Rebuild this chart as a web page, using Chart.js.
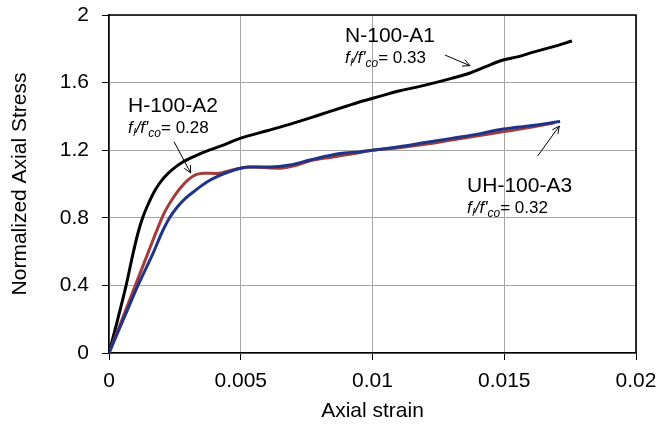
<!DOCTYPE html>
<html>
<head>
<meta charset="utf-8">
<script src="https://cdn.jsdelivr.net/npm/chart.js@4.4.1/dist/chart.umd.min.js"></script>
<style>
html,body{margin:0;padding:0;background:#fff;}
#wrap{width:660px;height:432px;position:relative;}
</style>
</head>
<body>
<div id="wrap"><canvas id="c" width="660" height="432"></canvas></div>
<script>
// ---- data ----
const xTicks = [0, 0.005, 0.01, 0.015, 0.02];
const yTicks = [0, 0.4, 0.8, 1.2, 1.6, 2];

const seriesNames = ["N-100-A1", "H-100-A2", "UH-100-A3"];

const strainN = [0,0.0003,0.00065,0.0009,0.0011,0.0013,0.0015,0.0017,0.0019,0.0021,0.0024,0.0028,0.0033,0.0038,0.00434,0.00497,0.006,0.007,0.008,0.009,0.00953,0.0103,0.011,0.012,0.013,0.0137,0.0143,0.01495,0.0155,0.0161,0.0168,0.01757];
const stressN = [0,0.18,0.4,0.58,0.71,0.81,0.885,0.95,1.0,1.04,1.085,1.13,1.168,1.2,1.23,1.27,1.315,1.36,1.41,1.46,1.487,1.52,1.55,1.585,1.625,1.657,1.695,1.734,1.752,1.78,1.81,1.846];

const strainH = [0,0.0005,0.001,0.0015,0.0018,0.0021,0.0024,0.0027,0.003,0.0033,0.0036,0.0041,0.00459,0.00497,0.0055,0.0061,0.0065,0.0071,0.0077,0.0085,0.0093,0.01,0.011,0.012,0.013,0.014,0.015,0.016,0.0169];
const stressH = [0,0.2,0.4,0.6,0.72,0.83,0.91,0.975,1.025,1.055,1.064,1.062,1.079,1.093,1.1,1.095,1.093,1.11,1.14,1.16,1.18,1.2,1.215,1.235,1.26,1.285,1.31,1.335,1.362];

const strainUH = [0,0.00055,0.0011,0.0017,0.002,0.0023,0.0026,0.0029,0.0033,0.0037,0.0041,0.0047,0.0053,0.0061,0.00687,0.00763,0.00877,0.0095,0.0103,0.011,0.012,0.013,0.014,0.01496,0.016,0.01712];
const stressUH = [0,0.2,0.4,0.6,0.71,0.8,0.865,0.915,0.965,1.01,1.043,1.08,1.1,1.1,1.112,1.142,1.18,1.19,1.205,1.22,1.245,1.27,1.295,1.325,1.345,1.37];

const ratios = ["0.33", "0.28", "0.32"];

// annotation anchors in data units: [labelX, labelY(baseline), arrowFromX, arrowFromY, arrowToX, arrowToY]
const annotN  = [0.00896, 1.842, 0.01275, 1.763, 0.0137, 1.700];
const annotH  = [0.00072, 1.428, 0.00247, 1.250, 0.0031, 1.065];
const annotUH = [0.01359, 0.954, 0.01627, 1.166, 0.01709, 1.343];

function pts(xs, ys){ return xs.map((x,i)=>({x:x, y:ys[i]})); }

const FONT = "'Liberation Sans', Arial, sans-serif";

const annotPlugin = {
  id: 'annot',
  afterDraw(chart){
    const ctx = chart.ctx;
    const xs = chart.scales.x, ys = chart.scales.y;
    const ca = chart.chartArea;
    ctx.save();
    ctx.strokeStyle = '#000';
    ctx.lineWidth = 1.6;
    ctx.beginPath();
    ctx.moveTo(ca.left, ca.top); ctx.lineTo(ca.right, ca.top); ctx.lineTo(ca.right, ca.bottom);
    ctx.stroke();
    ctx.restore();

    const anns = [[annotN, 0],[annotH, 1],[annotUH, 2]];
    anns.forEach(([a, i])=>{
      const lx = xs.getPixelForValue(a[0]);
      const ly = ys.getPixelForValue(a[1]);
      ctx.save();
      ctx.fillStyle = '#000';
      ctx.textBaseline = 'alphabetic';
      ctx.textAlign = 'left';
      ctx.font = '21px ' + FONT;
      ctx.fillText(seriesNames[i], lx, ly);
      let x = lx;
      const by = ly + 21.5;
      const segs = [
        {t:'f', f:'italic 17px ', dy:0},
        {t:'l', f:'italic 11px ', dy:3},
        {t:"/f'", f:'italic 17px ', dy:0},
        {t:'co', f:'italic 12px ', dy:4},
        {t:'= ' + ratios[i], f:'17px ', dy:0}
      ];
      segs.forEach(s=>{
        ctx.font = s.f + FONT;
        ctx.fillText(s.t, x, by + s.dy);
        x += ctx.measureText(s.t).width + (s.t==='f' ? 0.5 : 0);
      });
      const x1 = xs.getPixelForValue(a[2]), y1 = ys.getPixelForValue(a[3]);
      const x2 = xs.getPixelForValue(a[4]), y2 = ys.getPixelForValue(a[5]);
      ctx.strokeStyle = '#000';
      ctx.lineWidth = 1;
      ctx.beginPath(); ctx.moveTo(x1,y1); ctx.lineTo(x2,y2); ctx.stroke();
      const ang = Math.atan2(y2-y1, x2-x1);
      const hl = 8, ha = 0.45;
      ctx.beginPath();
      ctx.moveTo(x2 - hl*Math.cos(ang-ha), y2 - hl*Math.sin(ang-ha));
      ctx.lineTo(x2, y2);
      ctx.lineTo(x2 - hl*Math.cos(ang+ha), y2 - hl*Math.sin(ang+ha));
      ctx.stroke();
      ctx.restore();
    });
  }
};

const tickFont = {family: FONT, size: 21};

new Chart(document.getElementById('c'), {
  type: 'line',
  data: {
    datasets: [
      {label: seriesNames[0], data: pts(strainN, stressN), borderColor: '#000000', borderWidth: 3, order: 2},
      {label: seriesNames[1], data: pts(strainH, stressH), borderColor: '#a33c3a', borderWidth: 3, order: 1},
      {label: seriesNames[2], data: pts(strainUH, stressUH), borderColor: '#1f3487', borderWidth: 3, order: 0}
    ]
  },
  options: {
    responsive: false,
    animation: false,
    elements: {point: {radius: 0}, line: {tension: 0.3, cubicInterpolationMode: 'monotone', fill: false}},
    layout: {padding: {left: 0, right: 24, top: 15, bottom: 0}},
    plugins: {legend: {display: false}, tooltip: {enabled: false}},
    scales: {
      x: {
        type: 'linear', min: 0, max: 0.02,
        afterBuildTicks: s => { s.ticks = xTicks.map(v=>({value:v})); },
        afterFit: s => { s.height = 79; s.paddingLeft = 0; s.paddingRight = 0; },
        ticks: {font: tickFont, color: '#000', padding: 9, maxRotation: 0, autoSkip: false,
                callback: v => String(v)},
        grid: {color: '#a6a6a6', lineWidth: 1, tickLength: 7, tickColor: '#000', drawTicks: true},
        border: {color: '#000', width: 1.6},
        title: {display: true, text: 'Axial strain', font: {family: FONT, size: 21}, color: '#000', padding: {top: 0, bottom: 8}}
      },
      y: {
        type: 'linear', min: 0, max: 2,
        afterBuildTicks: s => { s.ticks = yTicks.map(v=>({value:v})); },
        afterFit: s => { s.width = 109; s.paddingTop = 0; s.paddingBottom = 0; },
        ticks: {font: tickFont, color: '#000', padding: 13, autoSkip: false,
                callback: v => String(v)},
        grid: {color: '#a6a6a6', lineWidth: 1, tickLength: 7, tickColor: '#000', drawTicks: true},
        border: {color: '#000', width: 1.6},
        title: {display: true, text: 'Normalized Axial Stress', font: {family: FONT, size: 21}, color: '#000', padding: {top: 8, bottom: 0}}
      }
    }
  },
  plugins: [annotPlugin]
});
</script>
</body>
</html>
